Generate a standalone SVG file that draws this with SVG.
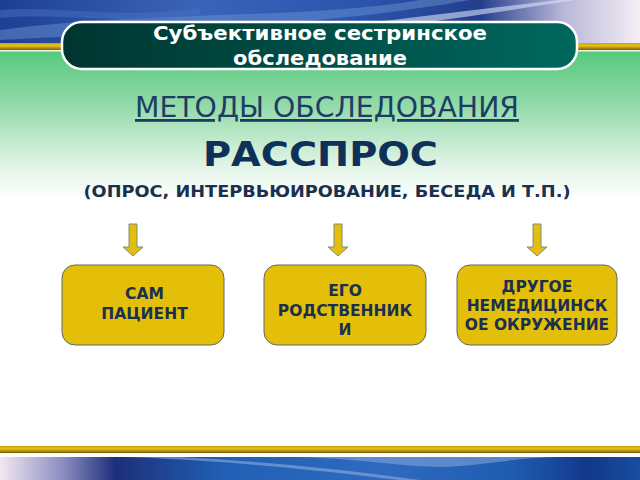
<svg xmlns="http://www.w3.org/2000/svg" width="640" height="480" viewBox="0 0 640 480">
<defs>
<linearGradient id="green" x1="0" y1="0" x2="0" y2="1">
<stop offset="0" stop-color="#55c97c"/>
<stop offset="0.35" stop-color="#8fd9a6"/>
<stop offset="0.75" stop-color="#def3e4"/>
<stop offset="1" stop-color="#ffffff"/>
</linearGradient>
<linearGradient id="topblue" x1="0" y1="0" x2="1" y2="0">
<stop offset="0" stop-color="#1d3f93"/>
<stop offset="0.3" stop-color="#3a64b8"/>
<stop offset="0.55" stop-color="#2b56ae"/>
<stop offset="0.75" stop-color="#243e8c"/>
<stop offset="0.88" stop-color="#b9b6d8"/>
<stop offset="1" stop-color="#f4eef4"/>
</linearGradient>
<linearGradient id="botblue" x1="0" y1="0" x2="1" y2="0">
<stop offset="0" stop-color="#f2e8f0"/>
<stop offset="0.1" stop-color="#8a8cc0"/>
<stop offset="0.18" stop-color="#1d2f7a"/>
<stop offset="0.35" stop-color="#2060b4"/>
<stop offset="0.6" stop-color="#2f6ac0"/>
<stop offset="0.8" stop-color="#1f5cb0"/>
<stop offset="0.92" stop-color="#12388a"/>
<stop offset="1" stop-color="#1a4da0"/>
</linearGradient>
<linearGradient id="gold" x1="0" y1="0" x2="0" y2="1">
<stop offset="0" stop-color="#c9a20a"/>
<stop offset="0.4" stop-color="#e8c21a"/>
<stop offset="1" stop-color="#7a5e05"/>
</linearGradient>
<linearGradient id="pill" x1="0" y1="0" x2="1" y2="0">
<stop offset="0" stop-color="#003530"/>
<stop offset="1" stop-color="#00685e"/>
</linearGradient>
<style>
.box{fill:#e4bf0a;stroke:#5b6b6b;stroke-width:1}
.arrow{fill:#e4bf0a;stroke:#7f8a8a;stroke-width:1}
.bt{font-family:"DejaVu Sans",sans-serif;font-weight:bold;font-size:15.5px;fill:#1b3050;text-anchor:middle}
.tt{font-family:"DejaVu Sans",sans-serif;font-weight:bold;font-size:20px;fill:#ffffff;text-anchor:middle}
</style>
</defs>
<rect width="640" height="480" fill="#ffffff"/>
<rect x="0" y="50" width="640" height="150" fill="url(#green)"/>
<rect x="0" y="0" width="640" height="44" fill="url(#topblue)"/>
<path d="M0 30 C150 10 300 20 420 0 L470 0 C330 25 180 30 0 40 Z" fill="#6a8fd0" opacity="0.5"/>
<path d="M300 30 C400 20 470 10 560 0 L575 0 C480 15 400 28 300 34 Z" fill="#d8e2f6" opacity="0.6"/>
<path d="M0 10 C60 5 120 20 200 8 L200 14 C120 26 60 12 0 18 Z" fill="#4a70c0" opacity="0.5"/>
<rect x="0" y="43" width="640" height="7" fill="url(#gold)"/>
<rect x="0" y="50" width="640" height="1.5" fill="#f4f4e8"/>
<rect x="0" y="446" width="640" height="7" fill="url(#gold)"/>
<rect x="0" y="457" width="640" height="23" fill="url(#botblue)"/>
<path d="M130 457 C250 462 330 472 400 480 L420 480 C350 470 270 462 180 457 Z" fill="#9fbbe6" opacity="0.5"/>
<path d="M300 457 C380 460 420 470 460 466 C500 462 520 458 560 457 Z" fill="#8fb0e0" opacity="0.5"/>
<g id="title">
<rect x="62" y="22" width="515" height="47" rx="20" fill="url(#pill)" stroke="#ffffff" stroke-width="2.5"/>
<text class="tt" x="320" y="39.5" textLength="334" lengthAdjust="spacingAndGlyphs">Субъективное сестринское</text>
<text class="tt" x="320" y="64.5" textLength="174" lengthAdjust="spacingAndGlyphs">обследование</text>
</g>
<g id="heading">
<text x="327" y="117" font-family="DejaVu Sans, sans-serif" font-size="28" fill="#1d3d63" text-anchor="middle" text-decoration="underline" textLength="384" lengthAdjust="spacingAndGlyphs">МЕТОДЫ ОБСЛЕДОВАНИЯ</text>
<text x="320.5" y="166" font-family="DejaVu Sans, sans-serif" font-weight="bold" font-size="33" fill="#0f3159" text-anchor="middle" textLength="235" lengthAdjust="spacingAndGlyphs">РАССПРОС</text>
<text x="327" y="197" font-family="DejaVu Sans, sans-serif" font-weight="bold" font-size="15.5" fill="#1b2f4f" text-anchor="middle" textLength="487" lengthAdjust="spacingAndGlyphs">(ОПРОС, ИНТЕРВЬЮИРОВАНИЕ, БЕСЕДА И Т.П.)</text>
</g>
<g id="connectors">
<path class="arrow" d="M129 224 H137 V247 H143 L133 256 L123 247 H129 Z"/>
<path class="arrow" d="M334 224 H342 V247 H348 L338 256 L328 247 H334 Z"/>
<path class="arrow" d="M533 224 H541 V247 H547 L537 256 L527 247 H533 Z"/>
</g>
<g id="node1">
<rect class="box" x="62" y="265" width="162" height="80" rx="13"/>
<text class="bt" x="144.5" y="298.5">САМ</text>
<text class="bt" x="144.5" y="319">ПАЦИЕНТ</text>
</g>
<g id="node2">
<rect class="box" x="264" y="265" width="162" height="80" rx="13"/>
<text class="bt" x="345" y="296">ЕГО</text>
<text class="bt" x="345" y="316">РОДСТВЕННИК</text>
<text class="bt" x="345" y="335">И</text>
</g>
<g id="node3">
<rect class="box" x="457" y="265" width="160" height="80" rx="13"/>
<text class="bt" x="537" y="292">ДРУГОЕ</text>
<text class="bt" x="537" y="311">НЕМЕДИЦИНСК</text>
<text class="bt" x="537" y="330">ОЕ ОКРУЖЕНИЕ</text>
</g>
</svg>
